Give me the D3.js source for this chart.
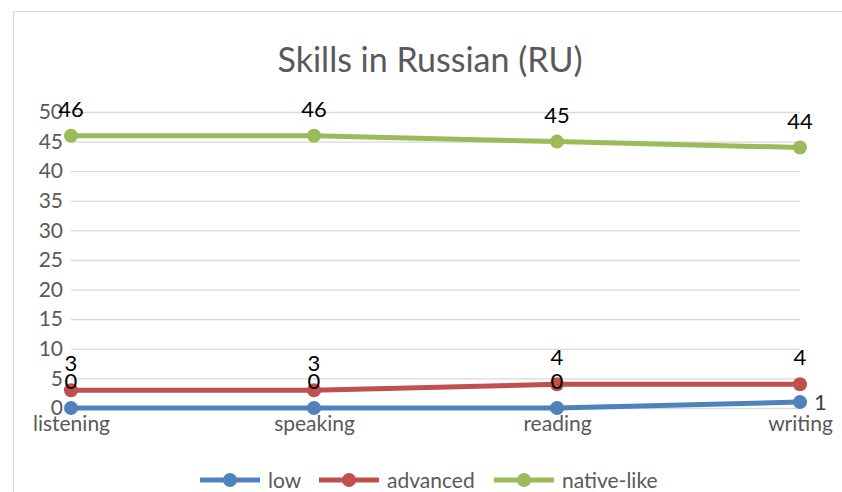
<!DOCTYPE html>
<html>
<head>
<meta charset="utf-8">
<script src="https://cdn.jsdelivr.net/npm/d3@7"></script>
<style>
  body { margin: 0; background: #fff; }
  svg text { font-family: Lato, "Open Sans", sans-serif; }
</style>
</head>
<body>
<div id="chart"></div>
<script>
const categories = ["listening", "speaking", "reading", "writing"]
const seriesNames = ["low", "advanced", "native-like"]
const lowValues = [0, 0, 0, 1]
const advancedValues = [3, 3, 4, 4]
const nativeValues = [46, 46, 45, 44]
const yTicks = [0, 5, 10, 15, 20, 25, 30, 35, 40, 45, 50]
const colors = ["#4f81bd", "#c0504d", "#9bbb59"]

const width = 842, height = 492
const margin = { top: 112, right: 42, bottom: 84, left: 71 }

const svg = d3.select("#chart").append("svg")
  .attr("width", width)
  .attr("height", height)

// chart area border (partly off-screen)
svg.append("rect")
  .attr("x", 13.5).attr("y", 11.5)
  .attr("width", 900).attr("height", 600)
  .style("fill", "none")
  .style("stroke", "#d9d9d9")
  .style("stroke-width", 1)

svg.append("text")
  .attr("x", 430).attr("y", 72)
  .attr("text-anchor", "middle")
  .style("font-size", "34px")
  .style("fill", "#595959")
  .text("Skills in Russian (RU)")

const x = d3.scalePoint()
  .domain(categories)
  .range([margin.left, width - margin.right])

const y = d3.scaleLinear()
  .domain([0, 50])
  .range([height - margin.bottom, margin.top])

// gridlines
svg.append("g")
  .attr("transform", `translate(${margin.left},0)`)
  .call(d3.axisLeft(y).tickValues(yTicks).tickSize(-(width - margin.right - margin.left)).tickFormat(""))
  .call(g => g.select(".domain").remove())
  .selectAll("line")
  .style("stroke", "#d9d9d9")
  .style("stroke-width", 1.3)

// y labels
svg.append("g")
  .attr("transform", `translate(${margin.left},0)`)
  .call(d3.axisLeft(y).tickValues(yTicks).tickSize(0).tickPadding(8))
  .call(g => g.select(".domain").remove())
  .selectAll("text")
  .style("font-size", "21px")
  .style("fill", "#595959")

// x labels
svg.append("g")
  .attr("transform", `translate(0,${height - margin.bottom})`)
  .call(d3.axisBottom(x).tickSize(0).tickPadding(8))
  .call(g => g.select(".domain").remove())
  .selectAll("text")
  .style("font-size", "21px")
  .style("fill", "#595959")

const series = [
  { name: seriesNames[0], values: lowValues, color: colors[0] },
  { name: seriesNames[1], values: advancedValues, color: colors[1] },
  { name: seriesNames[2], values: nativeValues, color: colors[2] }
]

const line = d3.line()
  .x((d, i) => x(categories[i]))
  .y(d => y(d))

series.forEach((s, si) => {
  svg.append("path")
    .datum(s.values)
    .attr("d", line)
    .style("fill", "none")
    .style("stroke", s.color)
    .style("stroke-width", 5)
    .style("stroke-linejoin", "round")

  svg.selectAll(`.pt${si}`)
    .data(s.values)
    .enter()
    .append("circle")
    .attr("cx", (d, i) => x(categories[i]))
    .attr("cy", d => y(d))
    .attr("r", 7)
    .style("fill", s.color)
})

// data labels (the last "low" label sits to the right of its point)
const isRight = (si, i) => si === 0 && i === categories.length - 1
series.forEach((s, si) => {
  svg.selectAll(`.lbl${si}`)
    .data(s.values)
    .enter()
    .append("text")
    .attr("x", (d, i) => isRight(si, i) ? x(categories[i]) + 14 : x(categories[i]))
    .attr("y", (d, i) => isRight(si, i) ? y(d) + 8 : y(d) - 19)
    .attr("text-anchor", (d, i) => isRight(si, i) ? "start" : "middle")
    .style("font-size", "22px")
    .style("fill", (d, i) => isRight(si, i) ? "#404040" : "#000")
    .text(d => d)
})

// legend
const legendItems = [
  { name: seriesNames[0], color: colors[0], x: 200 },
  { name: seriesNames[1], color: colors[1], x: 319 },
  { name: seriesNames[2], color: colors[2], x: 494 }
]
const lg = svg.append("g").attr("transform", "translate(0,480)")
legendItems.forEach(it => {
  lg.append("line")
    .attr("x1", it.x).attr("x2", it.x + 60)
    .attr("y1", 0).attr("y2", 0)
    .style("stroke", it.color)
    .style("stroke-width", 5)
  lg.append("circle")
    .attr("cx", it.x + 30).attr("cy", 0).attr("r", 7)
    .style("fill", it.color)
  lg.append("text")
    .attr("x", it.x + 68).attr("y", 8)
    .style("font-size", "21px")
    .style("fill", "#595959")
    .text(it.name)
})
</script>
</body>
</html>
